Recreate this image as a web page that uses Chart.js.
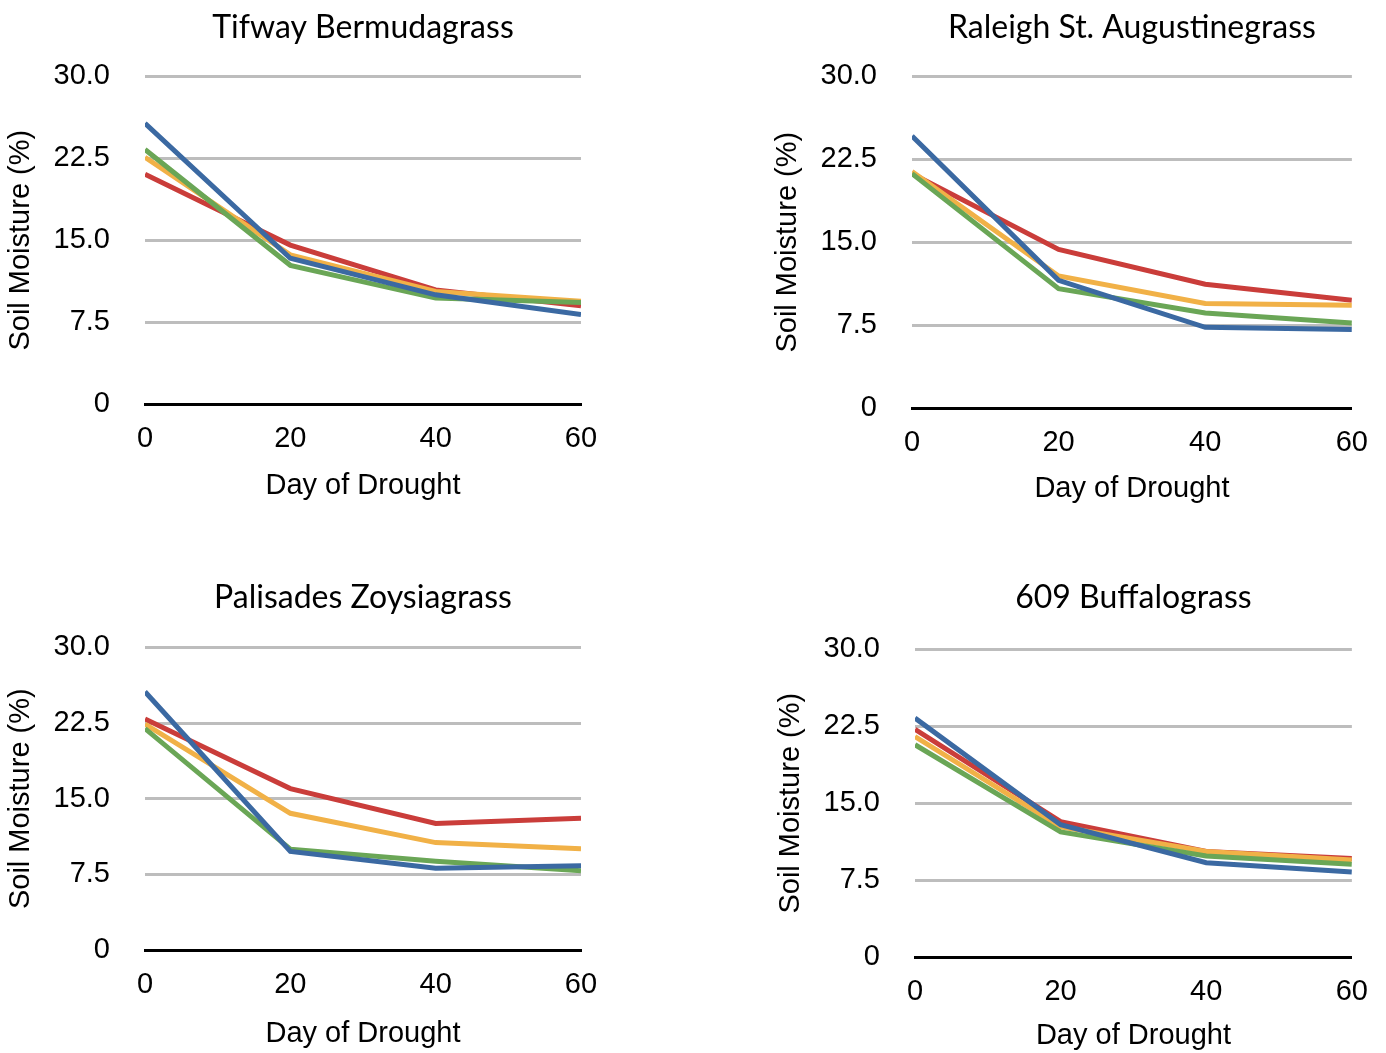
<!DOCTYPE html>
<html>
<head>
<meta charset="utf-8">
<script src="https://cdn.jsdelivr.net/npm/chart.js@4.4.1/dist/chart.umd.min.js"></script>
<style>
  body { margin: 0; background: #fff; width: 1386px; height: 1053px; position: relative; overflow: hidden; }
  .box { position: absolute; width: 693px; }
</style>
</head>
<body>
<div class="box" style="left:0;top:0;height:527px"><canvas id="c1"></canvas></div>
<div class="box" style="left:693px;top:0;height:527px"><canvas id="c2"></canvas></div>
<div class="box" style="left:0;top:527px;height:526px"><canvas id="c3"></canvas></div>
<div class="box" style="left:693px;top:527px;height:526px"><canvas id="c4"></canvas></div>
<script>
// shared axes
const days = [0, 20, 40, 60];
const xTickLabels = ['0', '20', '40', '60'];
const yTickValues = [0, 7.5, 15, 22.5, 30];
const yTickLabels = ['0', '7.5', '15.0', '22.5', '30.0'];
const seriesNames = ['Series 1', 'Series 2', 'Series 3', 'Series 4'];
const seriesColors = ['#3b69a2', '#6aa656', '#f1b147', '#ca3d3a'];

// soil moisture (%) per grass, one array per series
const tifwayBlue   = [25.7, 13.35, 10.0, 8.2];
const tifwayGreen  = [23.3, 12.7, 9.7, 9.3];
const tifwayYellow = [22.6, 13.65, 10.3, 9.4];
const tifwayRed    = [21.05, 14.55, 10.45, 9.0];

const raleighBlue   = [24.6, 11.55, 7.3, 7.1];
const raleighGreen  = [21.2, 10.8, 8.6, 7.7];
const raleighYellow = [21.4, 11.95, 9.45, 9.3];
const raleighRed    = [21.2, 14.35, 11.2, 9.75];

const palisadesBlue   = [25.6, 9.77, 8.1, 8.35];
const palisadesGreen  = [21.95, 10.0, 8.8, 7.85];
const palisadesYellow = [22.4, 13.55, 10.65, 10.05];
const palisadesRed    = [22.9, 16.0, 12.55, 13.05];

const buffaloBlue   = [23.3, 12.9, 9.2, 8.3];
const buffaloGreen  = [20.7, 12.2, 9.85, 9.05];
const buffaloYellow = [21.5, 12.7, 10.3, 9.45];
const buffaloRed    = [22.2, 13.2, 10.3, 9.6];

const tickFont = { family: "'Liberation Sans', Arial, sans-serif", size: 29 };
const titleFont = { family: "Lato, 'Open Sans', sans-serif", size: 32, weight: 'normal' };

function makeChart(id, title, series, lay) {
  new Chart(document.getElementById(id), {
    type: 'line',
    data: {
      datasets: series.map((vals, i) => ({
        label: seriesNames[i],
        data: vals.map((v, j) => ({ x: days[j], y: v })),
        borderColor: seriesColors[i],
        backgroundColor: seriesColors[i],
        borderWidth: 5,
        pointRadius: 0,
        tension: 0,
        fill: false
      }))
    },
    options: {
      responsive: true,
      maintainAspectRatio: false,
      animation: false,
      layout: { padding: { left: lay.padLeft, right: lay.padRight, top: 0, bottom: 0 } },
      plugins: {
        legend: { display: false },
        tooltip: { enabled: false },
        title: {
          display: true,
          text: title,
          fullSize: false,
          color: '#000',
          font: titleFont,
          padding: { top: lay.titleTop, bottom: lay.titleBottom }
        }
      },
      scales: {
        x: {
          type: 'linear',
          min: 0,
          max: 60,
          afterBuildTicks: s => { s.ticks = days.map(v => ({ value: v })); },
          afterFit: s => { s.height = lay.xHeight; },
          grid: { display: false, drawTicks: false },
          border: { display: true, color: '#000', width: 3 },
          ticks: {
            color: '#000',
            font: tickFont,
            padding: 18,
            maxRotation: 0,
            callback: v => xTickLabels[days.indexOf(v)]
          },
          title: {
            display: true,
            text: 'Day of Drought',
            color: '#000',
            font: tickFont,
            padding: { top: 0, bottom: lay.xTitleBottom }
          }
        },
        y: {
          min: 0,
          max: 30,
          afterBuildTicks: s => { s.ticks = yTickValues.map(v => ({ value: v })); },
          afterFit: s => { s.width = 145; },
          grid: {
            drawTicks: false,
            lineWidth: 3,
            color: c => (c.tick && c.tick.value === 0) ? 'rgba(0,0,0,0)' : '#bdbdbd'
          },
          border: { display: false },
          ticks: {
            color: '#000',
            font: tickFont,
            padding: 35,
            callback: v => yTickLabels[yTickValues.indexOf(v)]
          },
          title: {
            display: true,
            text: 'Soil Moisture (%)',
            color: '#000',
            font: tickFont,
            padding: { top: 4, bottom: 0 }
          }
        }
      }
    }
  });
}

makeChart('c1', 'Tifway Bermudagrass',
  [tifwayBlue, tifwayGreen, tifwayYellow, tifwayRed],
  { padLeft: 0, padRight: 112, titleTop: 8, titleBottom: 30, xHeight: 123, xTitleBottom: 24 });
makeChart('c2', 'Raleigh St. Augustinegrass',
  [raleighBlue, raleighGreen, raleighYellow, raleighRed],
  { padLeft: 74, padRight: 29, titleTop: 8, titleBottom: 30, xHeight: 119, xTitleBottom: 21 });
makeChart('c3', 'Palisades Zoysiagrass',
  [palisadesBlue, palisadesGreen, palisadesYellow, palisadesRed],
  { padLeft: 0, padRight: 112, titleTop: 51, titleBottom: 31, xHeight: 103, xTitleBottom: 2 });
makeChart('c4', '609 Buffalograss',
  [buffaloBlue, buffaloGreen, buffaloYellow, buffaloRed],
  { padLeft: 77, padRight: 29, titleTop: 51, titleBottom: 33, xHeight: 96, xTitleBottom: 0 });
</script>
</body>
</html>
